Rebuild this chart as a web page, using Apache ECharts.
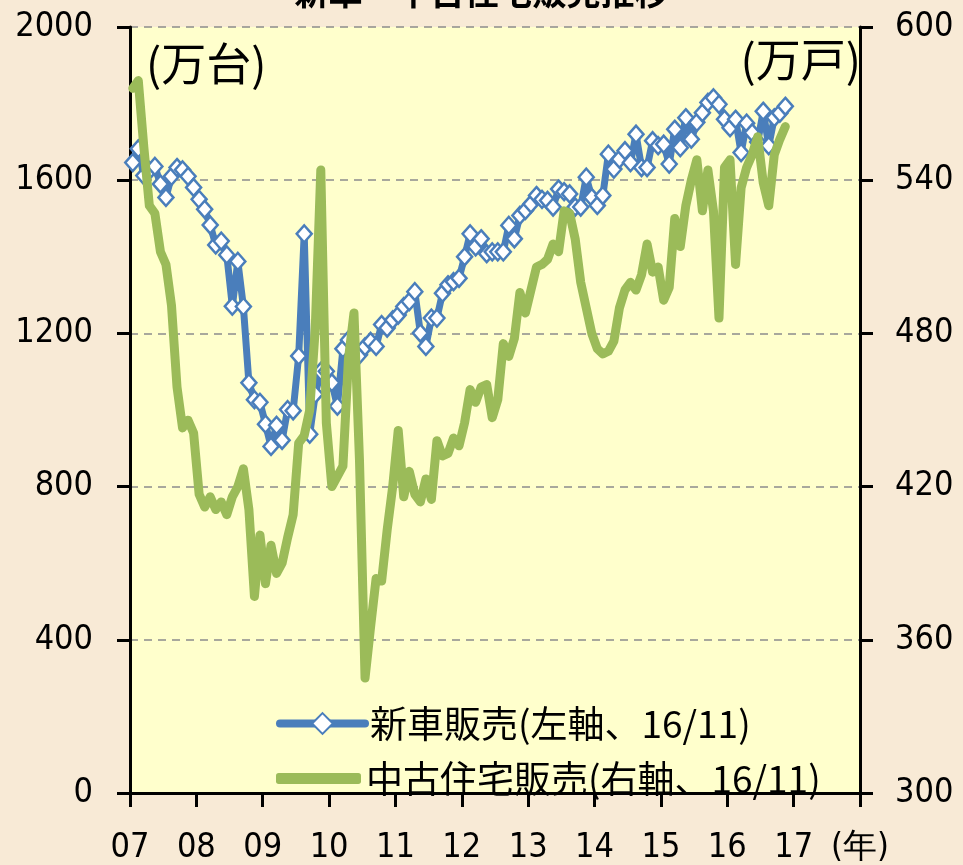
<!DOCTYPE html>
<html>
<head>
<meta charset="utf-8">
<script src="https://cdn.jsdelivr.net/npm/echarts@6/dist/echarts.min.js"></script>
<style>
  html, body { margin: 0; padding: 0; }
  body { background: #F8EAD6; }
  #main { width: 963px; height: 865px; }
</style>
</head>
<body>
<div id="main"></div>
<script>
var chart = echarts.init(document.getElementById('main'));

// 月次 07/01 .. 16/11
var carSales = [
    1646, 1682, 1612, 1625, 1636, 1590, 1555, 1610, 1633, 1627, 1610, 1581,
    1550, 1524, 1483, 1431, 1441, 1405, 1271, 1388, 1270, 1071, 1027, 1020,
    963, 905, 960, 921, 1001, 998, 1141, 1460, 937, 1041, 1101, 1101,
    1071, 1010, 1160, 1183, 1150, 1144, 1165, 1179, 1166, 1223, 1214, 1235,
    1248, 1270, 1283, 1309, 1201, 1166, 1240, 1240, 1305, 1327, 1335, 1344,
    1400, 1460, 1426, 1447, 1408, 1413, 1413, 1413, 1482, 1447, 1508, 1521,
    1538, 1560, 1550, 1547, 1530, 1577, 1570, 1564, 1530, 1530, 1608, 1555,
    1534, 1560, 1668, 1629, 1655, 1677, 1646, 1720, 1633, 1633, 1703, 1690,
    1694, 1642, 1733, 1685, 1763, 1707, 1751, 1776, 1803, 1815, 1798, 1759,
    1737, 1759, 1672, 1749, 1724, 1700, 1780, 1690, 1763, 1775, 1793
];
var homeSales = [
    576, 579, 553, 530, 527, 512, 507, 491, 459, 443, 446, 441,
    417, 412, 416, 411, 414, 409, 416, 420, 427, 411, 377, 401,
    382, 397, 386, 390, 400, 409, 437, 440, 450, 482, 544, 445,
    420, 424, 428, 470, 488, 430, 345, 365, 384, 383, 403, 420,
    442, 416, 426, 417, 414, 423, 415, 438, 432, 433, 439, 436,
    445, 458, 453, 459, 460, 447, 454, 476, 471, 478, 496, 488,
    497, 506, 507, 509, 515, 512, 528, 527, 517, 500, 490, 480,
    474, 472, 473, 477, 490, 497, 500, 497, 503, 515, 504, 506,
    493, 498, 525, 514, 530, 540, 548, 528, 544, 528, 486, 545,
    548, 507, 537, 545, 550, 557, 539, 530, 550, 556, 561
];
var yearLabels = ['07', '08', '09', '10', '11', '12', '13', '14', '15', '16', '17', '(年)'];

var numFont = "'Liberation Sans Narrow', 'DejaVu Sans Condensed', sans-serif";
var jpFont = "'Noto Sans CJK JP', sans-serif";
var blue = '#4A7EBB';
var green = '#9BBB59';
var carName = '新車販売(左軸、16/11)';
var homeName = '中古住宅販売(右軸、16/11)';

function toPoints(arr) {
    return arr.map(function (v, i) { return [i + 0.5, v]; });
}

var legendText = { fontFamily: jpFont, fontSize: 37, color: '#000' };

chart.setOption({
    backgroundColor: '#F8EAD6',
    animation: false,
    title: {
        text: '新車・中古住宅販売推移',
        left: 'center',
        top: -30,
        textStyle: { fontFamily: jpFont, fontSize: 34, fontWeight: 'bold', color: '#000' }
    },
    graphic: [
        { type: 'text', left: 146, top: 41, style: { text: '(万台)', fontFamily: jpFont, fontSize: 45, fill: '#000' } },
        { type: 'text', right: 102, top: 37, style: { text: '(万戸)', fontFamily: jpFont, fontSize: 45, fill: '#000' } }
    ],
    grid: { left: 130, right: 103, top: 27, bottom: 67, show: true, backgroundColor: '#FFFFCC', borderWidth: 0 },
    legend: [{
        left: 271,
        top: 700,
        itemWidth: 85,
        itemHeight: 26,
        textStyle: legendText,
        data: [{ name: carName, lineStyle: { width: 8 } }]
    }, {
        left: 271,
        top: 755,
        itemWidth: 85,
        itemHeight: 11,
        textStyle: legendText,
        data: [{ name: homeName, icon: 'roundRect' }]
    }],
    xAxis: {
        type: 'value',
        min: 0,
        max: 132,
        interval: 12,
        axisLine: { lineStyle: { color: '#000', width: 3 } },
        axisTick: { show: true, length: 14, lineStyle: { color: '#000', width: 3 } },
        splitLine: { show: false },
        axisLabel: {
            margin: 38,
            fontFamily: numFont,
            fontSize: 34,
            color: '#000',
            formatter: function (v) { return yearLabels[v / 12]; }
        }
    },
    yAxis: [{
        type: 'value',
        min: 0,
        max: 2000,
        interval: 400,
        axisLine: { show: true, lineStyle: { color: '#000', width: 3 } },
        axisTick: { show: true, length: 13, lineStyle: { color: '#000', width: 3 } },
        splitLine: { show: true, lineStyle: { color: '#8C8C8C', width: 1.5, type: [8, 6] } },
        axisLabel: {
            margin: 37, fontFamily: numFont, fontSize: 34, color: '#000',
            formatter: function (v) { return String(v); }
        }
    }, {
        type: 'value',
        min: 300,
        max: 600,
        interval: 60,
        axisLine: { show: true, lineStyle: { color: '#000', width: 3 } },
        axisTick: { show: true, length: 13, lineStyle: { color: '#000', width: 3 } },
        splitLine: { show: false },
        axisLabel: { margin: 35, fontFamily: numFont, fontSize: 34, color: '#000' }
    }],
    series: [{
        name: carName,
        type: 'line',
        yAxisIndex: 0,
        data: toPoints(carSales),
        symbol: 'diamond',
        symbolSize: [15, 17],
        itemStyle: { color: '#FFFFFF', borderColor: blue, borderWidth: 2.5 },
        lineStyle: { color: blue, width: 7, cap: 'round', join: 'round' },
        z: 2
    }, {
        name: homeName,
        type: 'line',
        yAxisIndex: 1,
        data: toPoints(homeSales),
        symbol: 'none',
        itemStyle: { color: green },
        lineStyle: { color: green, width: 9, cap: 'round', join: 'round' },
        z: 3
    }]
});
</script>
</body>
</html>
